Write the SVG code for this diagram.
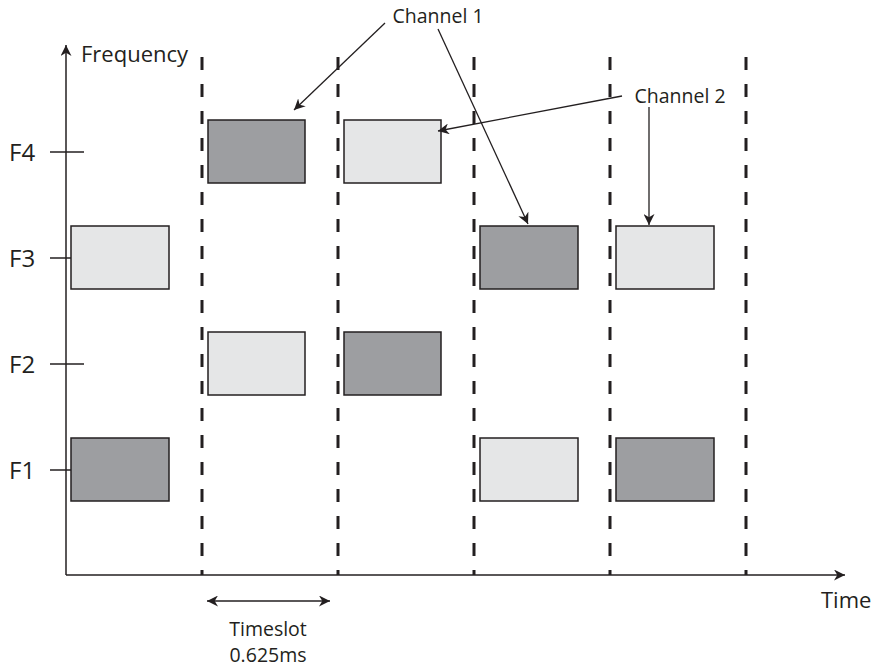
<svg xmlns="http://www.w3.org/2000/svg" width="874" height="668" viewBox="0 0 874 668">
<defs>
<style>
.ax{stroke:#231f20;stroke-width:1.5;fill:none}
.dash{stroke:#231f20;stroke-width:3;stroke-dasharray:13 14;fill:none}
.dark{fill:#9d9ea1;stroke:#231f20;stroke-width:1.5}
.light{fill:#e5e6e7;stroke:#231f20;stroke-width:1.5}
.ln{stroke:#231f20;stroke-width:1.3;fill:none}
text{font-family:"Open Sans","Liberation Sans",sans-serif;fill:#231f20}
.lbl{font-size:22px}
.fl{font-size:24px}
.sm{font-size:19.5px}
</style>
<marker id="ah" viewBox="0 0 10 10" refX="10" refY="5" markerWidth="11" markerHeight="11" markerUnits="userSpaceOnUse" orient="auto-start-reverse">
<path d="M0,0 L10,5 L0,10 L3,5 z" fill="#231f20"/>
</marker>
</defs>
<g id="axes">
<line class="ax" x1="66" y1="575" x2="66" y2="45" marker-end="url(#ah)"/>
<line class="ax" x1="66" y1="575" x2="845" y2="575" marker-end="url(#ah)"/>
<line class="ax" x1="50" y1="152" x2="84" y2="152"/>
<line class="ax" x1="50" y1="258" x2="84" y2="258"/>
<line class="ax" x1="50" y1="364" x2="84" y2="364"/>
<line class="ax" x1="50" y1="470" x2="84" y2="470"/>
<text x="81" y="62" class="lbl">Frequency</text>
<text x="9" y="161" class="fl">F4</text>
<text x="9" y="267" class="fl">F3</text>
<text x="9" y="373" class="fl">F2</text>
<text x="9" y="479" class="fl">F1</text>
<text x="821" y="608" class="lbl">Time</text>
</g>
<g id="slots">
<line class="dash" x1="202" y1="57" x2="202" y2="575"/>
<line class="dash" x1="338" y1="57" x2="338" y2="575"/>
<line class="dash" x1="474" y1="57" x2="474" y2="575"/>
<line class="dash" x1="610" y1="57" x2="610" y2="575"/>
<line class="dash" x1="746" y1="57" x2="746" y2="575"/>
</g>
<g id="blocks">
<rect class="dark" x="208" y="120" width="97" height="63"/>
<rect class="light" x="344" y="120" width="97" height="63"/>
<rect class="light" x="71" y="226" width="98" height="63"/>
<rect class="dark" x="480" y="226" width="98" height="63"/>
<rect class="light" x="616" y="226" width="98" height="63"/>
<rect class="light" x="208" y="332" width="97" height="63"/>
<rect class="dark" x="344" y="332" width="97" height="63"/>
<rect class="dark" x="71" y="438" width="98" height="63"/>
<rect class="light" x="480" y="438" width="98" height="63"/>
<rect class="dark" x="616" y="438" width="98" height="63"/>
</g>
<g id="labels">
<text x="438" y="23" class="sm" text-anchor="middle">Channel 1</text>
<text x="680" y="103" class="sm" text-anchor="middle">Channel 2</text>
<text x="268" y="636" class="sm" text-anchor="middle" font-size="19">Timeslot</text>
<text x="268" y="662" class="sm" text-anchor="middle" font-size="19">0.625ms</text>
</g>
<g id="connectors">
<line class="ln" x1="385" y1="23" x2="294" y2="110" marker-end="url(#ah)"/>
<line class="ln" x1="438" y1="29" x2="528" y2="224" marker-end="url(#ah)"/>
<line class="ln" x1="622" y1="96" x2="438" y2="131" marker-end="url(#ah)"/>
<line class="ln" x1="649" y1="107" x2="649" y2="225" marker-end="url(#ah)"/>
<line class="ln" x1="207" y1="601" x2="330" y2="601" marker-start="url(#ah)" marker-end="url(#ah)"/>
</g>
</svg>
